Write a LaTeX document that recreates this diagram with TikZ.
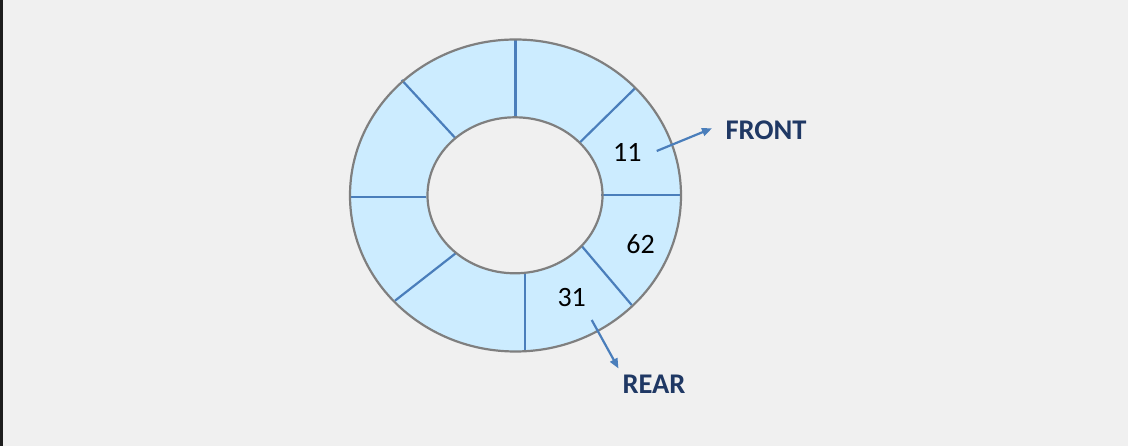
\documentclass[tikz,border=0pt]{standalone}
\usepackage{fontspec}
\setmainfont{Carlito}
\usetikzlibrary{arrows.meta}
\definecolor{bgc}{HTML}{F0F0F0}
\definecolor{stripc}{HTML}{1E1E1E}
\definecolor{ringfill}{HTML}{CCECFF}
\definecolor{ringline}{HTML}{7F7F7F}
\definecolor{divline}{HTML}{4A7EBB}
\definecolor{navy}{HTML}{1F3864}
\tikzset{
  divider/.style={draw=divline, line width=2.2pt},
  ringedge/.style={draw=ringline, line width=2.2pt},
  valtext/.style={inner sep=0pt, text=black, font=\fontsize{28}{32}\selectfont},
  ptrtext/.style={inner sep=0pt, text=navy, font=\bfseries\fontsize{28.5}{32}\selectfont},
  ptrarrow/.style={draw=divline, line width=2.2pt, -{Triangle[length=10pt,width=8pt]}}
}
\begin{document}
\begin{tikzpicture}[x=1pt,y=-1pt]
\useasboundingbox (0,0) rectangle (1128,446);
\fill[bgc] (0,0) rectangle (1128,446);
\fill[stripc] (0,0) rectangle (3,446);
% ring
\fill[ringfill] (515.5,195.5) ellipse [x radius=165.5pt, y radius=156pt];
\fill[bgc] (515,195.3) ellipse [x radius=87.5pt, y radius=78pt];
% dividers
\draw[divider] (515.5,40) -- (515.5,117.5);
\draw[divider] (635,88.3) -- (580,142.3);
\draw[divider] (601,194.7) -- (680.5,194.7);
\draw[divider] (581.7,246) -- (631.7,305);
\draw[divider] (525,272) -- (525,352);
\draw[divider] (455.7,253.3) -- (395,300.7);
\draw[divider] (350.5,196.7) -- (426,196.7);
\draw[divider] (401.7,80) -- (455,137.7);
% outlines
\draw[ringedge] (515.5,195.5) ellipse [x radius=165.5pt, y radius=156pt];
\draw[ringedge] (515,195.3) ellipse [x radius=87.5pt, y radius=78pt];
% values
\node[valtext] (v11) at (627.3,152.5) {11};
\node[valtext] (v62) at (640.5,244.5) {62};
\node[valtext] (v31) at (571.7,298) {31};
% pointers
\node[ptrtext] (front) at (766,130) {FRONT};
\node[ptrtext] (rear) at (654,384) {REAR};
\coordinate (fs) at (656.7,151);
\coordinate (fe) at (712,128.3);
\coordinate (rs) at (591.7,320);
\coordinate (re) at (618.5,368.5);
\draw[ptrarrow] (fs) -- (fe);
\draw[ptrarrow] (rs) -- (re);
\end{tikzpicture}
\end{document}
